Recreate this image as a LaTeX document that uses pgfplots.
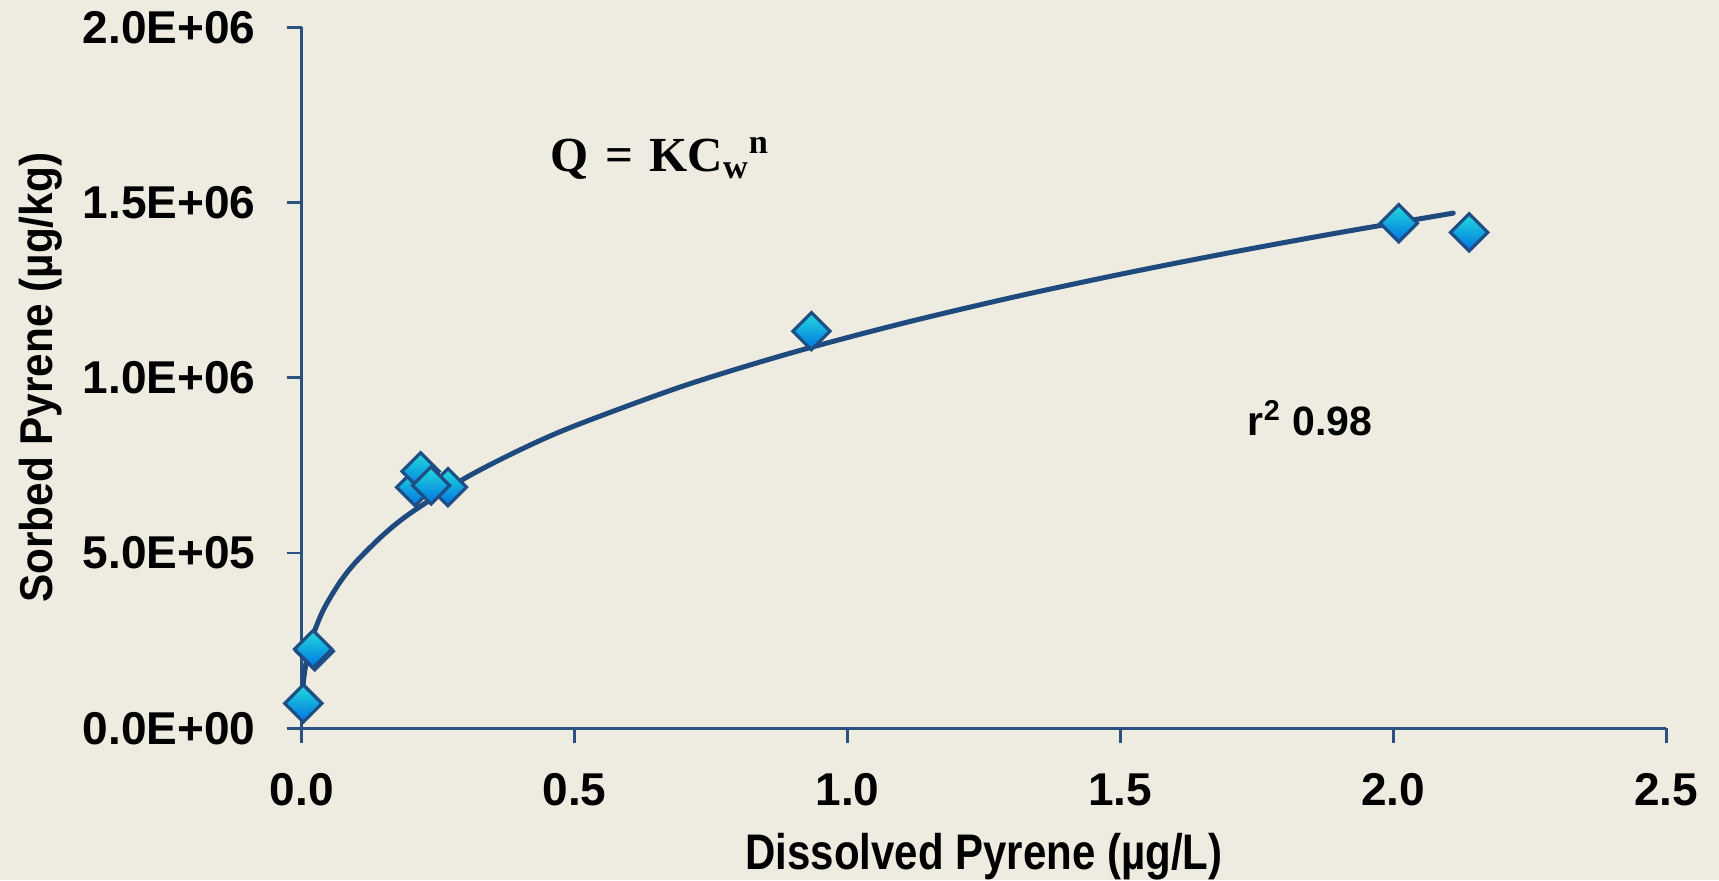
\documentclass[border=0pt]{standalone}
\usepackage{pgfplots}
\pgfplotsset{compat=1.18}
\usepackage{fontspec}
\setmainfont{Liberation Sans}
\newfontfamily\labelfont[FakeStretch=0.92]{Liberation Sans Bold}
\newfontfamily\xlabelfont[FakeStretch=0.84]{Liberation Sans Bold}
\newfontfamily\eqfont{Liberation Serif}
\definecolor{bg}{HTML}{EEEBE1}
\definecolor{axisblue}{HTML}{2A5182}
\definecolor{curveblue}{HTML}{1F4A7E}
\definecolor{mkedge}{HTML}{1F4E85}
\definecolor{mktop}{HTML}{22DCDA}
\definecolor{mkbot}{HTML}{0072E4}
\pgfdeclareverticalshading{diamshade}{100bp}{color(0bp)=(mkbot); color(25bp)=(mkbot); color(75bp)=(mktop); color(100bp)=(mktop)}
\pgfdeclareplotmark{shdiamond}{%
  \pgfpathmoveto{\pgfqpoint{0pt}{\pgfplotmarksize}}%
  \pgfpathlineto{\pgfqpoint{\pgfplotmarksize}{0pt}}%
  \pgfpathlineto{\pgfqpoint{0pt}{-\pgfplotmarksize}}%
  \pgfpathlineto{\pgfqpoint{-\pgfplotmarksize}{0pt}}%
  \pgfpathclose
  \pgfshadepath{diamshade}{0}%
  \pgfusepath{discard}%
  \pgfpathmoveto{\pgfqpoint{0pt}{\pgfplotmarksize}}%
  \pgfpathlineto{\pgfqpoint{\pgfplotmarksize}{0pt}}%
  \pgfpathlineto{\pgfqpoint{0pt}{-\pgfplotmarksize}}%
  \pgfpathlineto{\pgfqpoint{-\pgfplotmarksize}{0pt}}%
  \pgfpathclose
  \pgfusepathqstroke}
\begin{document}
\begin{tikzpicture}
\useasboundingbox (-150.85pt,-75.85pt) rectangle (708.65pt,364.15pt);
\fill[bg] (-150.85pt,-75.85pt) rectangle (708.65pt,364.15pt);
\begin{axis}[
  scale only axis, width=682.2pt, height=350.5pt,
  at={(0,0)}, anchor=south west,
  xmin=0, xmax=2.5, ymin=0, ymax=2000000,
  axis lines=left,
  axis line style={draw=axisblue, line width=1.4pt, -},
  xtick={0,0.5,1,1.5,2,2.5}, xticklabels={0.0,0.5,1.0,1.5,2.0,2.5},
  ytick={0,500000,1000000,1500000,2000000},
  yticklabels={0.0E+00,5.0E+05,1.0E+06,1.5E+06,2.0E+06},
  scaled y ticks=false, scaled x ticks=false,
  tick align=outside, major tick length=7.5pt,
  tick style={draw=axisblue, line width=1.4pt},
  tick label style={font=\fontsize{23}{25}\selectfont\bfseries, inner sep=0pt},
  yticklabel shift=15.5pt, xticklabel shift=14.85pt,
  xlabel={Dissolved Pyrene (µg/L)},
  xlabel style={at={(axis description cs:0.5,0)}, anchor=base, yshift=-70.5pt, inner sep=0pt, font=\xlabelfont\fontsize{25}{28}\selectfont},
  ylabel={Sorbed Pyrene (µg/kg)},
  ylabel style={at={(axis description cs:-0.183,0.5)}, anchor=base, inner sep=0pt, font=\labelfont\fontsize{23}{26}\selectfont},
  clip=false,
]
\addplot[curveblue, line width=2.5pt, no marks, smooth, line join=round, line cap=round] coordinates {
(0.0005,67000) (0.001,86500) (0.002,111800) (0.003,130000) (0.005,157000)
(0.01,202900) (0.02,262200) (0.04,338800) (0.07,416800) (0.1,475700)
(0.15,552600) (0.2,614700) (0.3,714200) (0.4,794400) (0.5,862800)
(0.7,977100) (0.9,1072400) (1.1,1155000) (1.3,1228700) (1.5,1295400)
(1.7,1356800) (1.9,1413900) (2.11,1469800)
};
\addplot[only marks, mark=shdiamond, mark size=9.3pt, mark options={draw=mkedge, line width=1.6pt}] coordinates {
(0.003,71000) (0.024,220000) (0.021,226000)
(0.208,688000) (0.218,733000) (0.268,688000) (0.237,693000)
(0.934,1133000) (2.010,1441000) (2.139,1415000)
};
\node[anchor=west, inner sep=0pt, font=\eqfont\fontsize{24.5}{28}\selectfont\bfseries] at (axis cs:0.456,1627000) {Q\,\,=\,\,KC\textsubscript{w}\textsuperscript{n}};
\node[anchor=base west, inner sep=0pt, font=\fontsize{20.5}{24}\selectfont\bfseries] at (axis cs:1.733,834000) {r\textsuperscript{2} 0.98};
\end{axis}
\end{tikzpicture}
\end{document}
